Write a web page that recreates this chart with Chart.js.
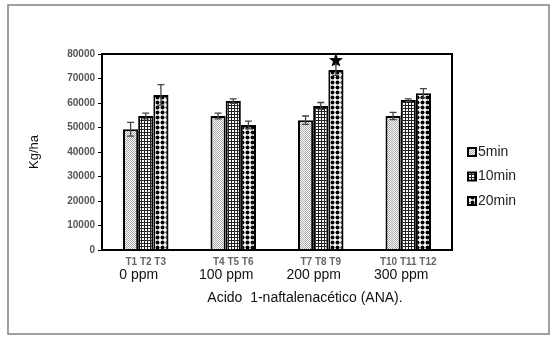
<!DOCTYPE html>
<html>
<head>
<meta charset="utf-8">
<script src="https://cdn.jsdelivr.net/npm/chart.js@4.4.1/dist/chart.umd.min.js"></script>
<style>
  html, body { margin: 0; padding: 0; background: #fff; }
  #wrap { width: 556px; height: 338px; position: relative; }
</style>
</head>
<body>
<div id="wrap"><canvas id="myChart"></canvas></div>
<script>
// Datos del grafico
const tLabels = ['T1 T2 T3', 'T4 T5 T6', 'T7 T8 T9', 'T10 T11 T12'];
const ppmLabels = ['0 ppm', '100 ppm', '200 ppm', '300 ppm'];
const seriesNames = ['5min', '10min', '20min'];
const v5 = [49300, 54700, 53000, 54700];
const v10 = [54700, 60800, 58800, 61200];
const v20 = [63300, 51000, 73500, 64000];
const e5 = [2800, 1200, 1700, 1500];
const e10 = [1200, 900, 1400, 500];
const e20 = [4200, 1600, 2200, 1900];
const yTicks = [0, 10000, 20000, 30000, 40000, 50000, 60000, 70000, 80000];
const starMark = { series: 2, index: 2 }; // T9
const FONT = '"Liberation Sans", Arial, sans-serif';

// Tramas de relleno
function makePattern(kind) {
  const c = document.createElement('canvas');
  const g = c.getContext('2d');
  if (kind === 'dots') {
    c.width = 2; c.height = 2;
    g.fillStyle = '#fff'; g.fillRect(0, 0, 2, 2);
    g.fillStyle = '#a8a8a8';
    g.fillRect(0, 0, 1, 1); g.fillRect(1, 1, 1, 1);
  } else if (kind === 'grid') {
    c.width = 3; c.height = 3;
    g.fillStyle = '#fff'; g.fillRect(0, 0, 3, 3);
    g.fillStyle = '#222';
    g.fillRect(0, 0, 3, 1); g.fillRect(0, 0, 1, 3);
  } else {
    c.width = 5; c.height = 5;
    g.fillStyle = '#fff'; g.fillRect(0, 0, 5, 5);
    g.fillStyle = '#000';
    g.beginPath(); g.arc(2.5, 2.5, 2, 0, Math.PI * 2); g.fill();
  }
  return g.createPattern(c, 'repeat');
}
const patterns = [makePattern('dots'), makePattern('grid'), makePattern('circles')];
const values = [v5, v10, v20];
const errors = [e5, e10, e20];

const frameAndExtras = {
  id: 'frameAndExtras',
  beforeDraw(chart) {
    const c = chart.ctx;
    c.save();
    c.strokeStyle = '#808080';
    c.lineWidth = 1.5;
    c.strokeRect(8, 5, 541, 329);
    c.restore();
  },
  afterDatasetsDraw(chart) {
    const c = chart.ctx;
    const y = chart.scales.y;
    c.save();
    // barras de error
    c.strokeStyle = '#444';
    c.lineWidth = 1.3;
    values.forEach((vals, i) => {
      const meta = chart.getDatasetMeta(i);
      meta.data.forEach((bar, j) => {
        const top = y.getPixelForValue(vals[j] + errors[i][j]);
        const bot = y.getPixelForValue(vals[j] - errors[i][j]);
        c.beginPath();
        c.moveTo(bar.x, top); c.lineTo(bar.x, bot);
        c.moveTo(bar.x - 3.5, top); c.lineTo(bar.x + 3.5, top);
        c.moveTo(bar.x - 3.5, bot); c.lineTo(bar.x + 3.5, bot);
        c.stroke();
      });
    });
    // estrella
    const sb = chart.getDatasetMeta(starMark.series).data[starMark.index];
    const sy = y.getPixelForValue(values[starMark.series][starMark.index] + errors[starMark.series][starMark.index]) - 4;
    c.fillStyle = '#000';
    c.beginPath();
    for (let k = 0; k < 10; k++) {
      const r = k % 2 === 0 ? 7.5 : 3;
      const a = -Math.PI / 2 + k * Math.PI / 5;
      const px = sb.x + r * Math.cos(a), py = sy + r * Math.sin(a);
      k === 0 ? c.moveTo(px, py) : c.lineTo(px, py);
    }
    c.closePath(); c.fill();
    // marco del area
    const a = chart.chartArea;
    c.strokeStyle = '#000';
    c.lineWidth = 2;
    c.strokeRect(a.left, a.top, a.right - a.left, a.bottom - a.top);
    // titulo del eje x
    c.fillStyle = '#111';
    c.font = '14px ' + FONT;
    c.textAlign = 'center';
    c.textBaseline = 'middle';
    c.fillText('Acido  1-naftalenacético (ANA).', (a.left + a.right) / 2 + 28, 298);
    // leyenda
    c.textAlign = 'left';
    c.font = '14px ' + FONT;
    seriesNames.forEach((name, i) => {
      const ly = 152 + i * 24.5;
      c.fillStyle = patterns[i];
      c.fillRect(468, ly - 4, 8, 8);
      c.strokeStyle = '#000';
      c.lineWidth = 2;
      c.strokeRect(468, ly - 4, 8, 8);
      c.fillStyle = '#222';
      c.fillText(name, 478, ly);
    });
    c.restore();
  }
};

const ctx = document.getElementById('myChart').getContext('2d');
const myChart = new Chart(ctx, {
  type: 'bar',
  data: {
    labels: tLabels,
    datasets: seriesNames.map((name, i) => ({
      label: name,
      data: values[i],
      backgroundColor: patterns[i],
      borderColor: '#000',
      borderWidth: 2,
      borderSkipped: 'bottom',
      barPercentage: 1.0,
      categoryPercentage: 0.52
    }))
  },
  options: {
    responsive: true,
    maintainAspectRatio: false,
    animation: false,
    layout: { padding: { left: 8, top: 54, right: 104, bottom: 51 } },
    plugins: {
      legend: { display: false },
      tooltip: { enabled: false }
    },
    scales: {
      x: {
        weight: 0,
        grid: { display: false, drawTicks: false },
        border: { display: false },
        ticks: { padding: 6, color: '#666', font: { family: FONT, size: 10, weight: 'bold' } },
        afterFit(s) { s.height = 17; }
      },
      x2: {
        type: 'category',
        position: 'bottom',
        weight: 1,
        labels: ppmLabels,
        offset: true,
        grid: { display: false, drawTicks: false },
        border: { display: false },
        ticks: { padding: 0, labelOffset: -7, color: '#111', font: { family: FONT, size: 14 } },
        afterFit(s) { s.height = 20; }
      },
      y: {
        min: 0,
        max: 80000,
        afterBuildTicks(s) { s.ticks = yTicks.map(v => ({ value: v })); },
        grid: { drawOnChartArea: false, tickLength: 4, color: '#000', lineWidth: 1 },
        border: { display: false },
        ticks: {
          padding: 3, color: '#555', font: { family: FONT, size: 10, weight: 'bold' },
          callback: v => String(v)
        },
        title: { display: true, text: 'Kg/ha', color: '#111', font: { family: FONT, size: 13 }, padding: { top: 19, bottom: 0 } },
        afterFit(s) { s.width = 94; }
      }
    }
  },
  plugins: [frameAndExtras]
});
</script>
</body>
</html>
